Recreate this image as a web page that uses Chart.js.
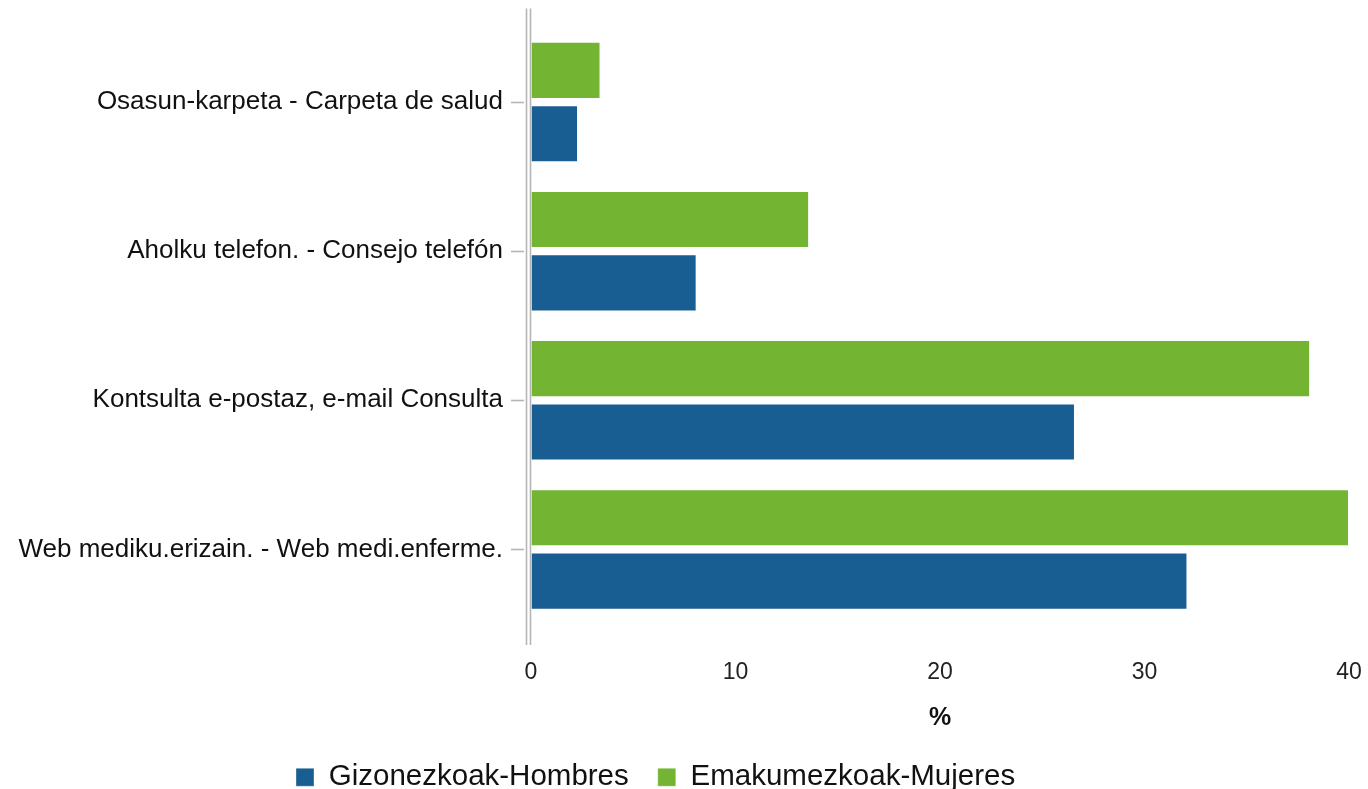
<!DOCTYPE html>
<html>
<head>
<meta charset="utf-8">
<script src="https://cdn.jsdelivr.net/npm/chart.js@4.4.1/dist/chart.umd.min.js"></script>
<style>
    html, body { margin: 0; padding: 0; background: #ffffff; }
    #wrap { width: 1368px; height: 789px; }
</style>
</head>
<body>
<div id="wrap"><canvas id="services-chart" width="1368" height="789"></canvas></div>
<script>
const categories = [
    "Osasun-karpeta - Carpeta de salud",
    "Aholku telefon. - Consejo telefón",
    "Kontsulta e-postaz, e-mail Consulta",
    "Web mediku.erizain. - Web medi.enferme."
];
const men_values = [2.3, 8.1, 26.6, 32.1];
const women_values = [3.4, 13.6, 38.1, 40.0];
const x_ticks = [0, 10, 20, 30, 40];

const blue = "#185e93";
const green = "#73b532";
const line_grey = "#b5b5b5";
const font_family = "'Liberation Sans', Arial, sans-serif";

// double grey line on the left edge of the plot (a bit longer than the plot)
// plus the short tick marks next to each category
const axisLine = {
    id: "axisLine",
    afterDatasetsDraw(chart) {
        let ctx = chart.ctx;
        let area = chart.chartArea;
        let yScale = chart.scales.y;
        ctx.save();
        ctx.strokeStyle = line_grey;
        ctx.lineWidth = 1.6;
        [area.left - 4.5, area.left - 0.5].forEach(function(x) {
            ctx.beginPath();
            ctx.moveTo(x, area.top - 19);
            ctx.lineTo(x, area.bottom + 21);
            ctx.stroke();
        });
        yScale.ticks.forEach(function(t, i) {
            let y = Math.round(yScale.getPixelForTick(i)) + 0.5;
            ctx.beginPath();
            ctx.moveTo(area.left - 20, y);
            ctx.lineTo(area.left - 7, y);
            ctx.stroke();
        });
        ctx.restore();
    }
};

// the legend row starts a bit left of the page centre
const legendShift = {
    id: "legendShift",
    afterLayout(chart) {
        chart.legend.left = 267;
    }
};

let ctx = document.getElementById("services-chart").getContext("2d");
let chart = new Chart(ctx, {
    type: "bar",
    data: {
        labels: categories,
        datasets: [
            {
                label: "Emakumezkoak-Mujeres",
                data: women_values,
                backgroundColor: green,
                borderColor: "rgba(255,255,255,0.35)",
                borderWidth: 1,
                categoryPercentage: 0.85,
                barPercentage: 0.9
            },
            {
                label: "Gizonezkoak-Hombres",
                data: men_values,
                backgroundColor: blue,
                borderColor: "rgba(255,255,255,0.35)",
                borderWidth: 1,
                categoryPercentage: 0.85,
                barPercentage: 0.9
            }
        ]
    },
    options: {
        indexAxis: "y",
        responsive: false,
        animation: false,
        devicePixelRatio: 1,
        layout: {
            padding: { top: 27.5, right: 19, left: 0, bottom: -13 }
        },
        scales: {
            x: {
                min: 0,
                max: 40,
                afterBuildTicks: function(scale) {
                    scale.ticks = x_ticks.map(v => ({ value: v }));
                },
                afterFit: function(scale) {
                    scale.height = 109.5;
                },
                grid: {
                    drawOnChartArea: false,
                    drawTicks: true,
                    tickLength: 33,
                    color: "rgba(0,0,0,0)"
                },
                border: { display: false },
                ticks: {
                    padding: 2,
                    color: "#222222",
                    font: { family: font_family, size: 23 }
                },
                title: {
                    display: true,
                    text: "%",
                    color: "#111111",
                    padding: { top: 0, bottom: 0 },
                    font: { family: font_family, size: 25, weight: "bold" }
                }
            },
            y: {
                afterFit: function(scale) {
                    scale.width = 531;
                },
                grid: {
                    drawOnChartArea: false,
                    drawTicks: true,
                    tickLength: 28,
                    color: "rgba(0,0,0,0)"
                },
                border: { display: false },
                ticks: {
                    padding: 0,
                    color: "#111111",
                    font: { family: font_family, size: 26 }
                }
            }
        },
        plugins: {
            legend: {
                position: "bottom",
                align: "start",
                reverse: true,
                labels: {
                    boxWidth: 18,
                    boxHeight: 18,
                    padding: 29,
                    color: "#111111",
                    font: { family: font_family, size: 29.5 }
                }
            },
            tooltip: { enabled: false }
        }
    },
    plugins: [axisLine, legendShift]
});
</script>
</body>
</html>
